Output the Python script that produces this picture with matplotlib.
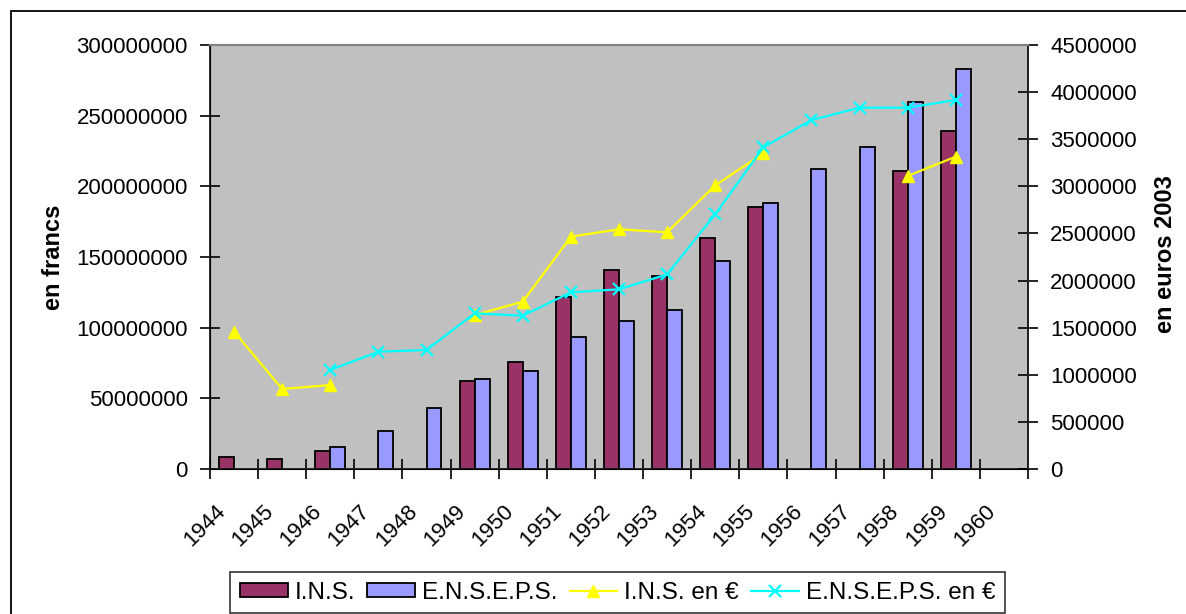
import numpy as np
import matplotlib
matplotlib.use('Agg')
from matplotlib import pyplot as plt
from matplotlib.patches import Rectangle
from matplotlib.lines import Line2D
import matplotlib.transforms as mtransforms

plt.rcParams['font.family'] = ['Liberation Sans', 'DejaVu Sans']

nan = np.nan
years = ['1944', '1945', '1946', '1947', '1948', '1949', '1950', '1951', '1952',
         '1953', '1954', '1955', '1956', '1957', '1958', '1959', '1960']

# francs (left axis)
ins_francs = [8.7e6, 7.3e6, 12.5e6, nan, nan, 62.5e6, 75.5e6, 121.7e6, 140.8e6,
              136.8e6, 163.7e6, 185.4e6, nan, nan, 211.1e6, 239.4e6, nan]
enseps_francs = [nan, nan, 15.3e6, 26.7e6, 43.4e6, 63.9e6, 69.1e6, 93.6e6, 104.9e6,
                 112.7e6, 147.4e6, 188.2e6, 212.5e6, 227.8e6, 259.9e6, 282.8e6, nan]

# euros 2003 (right axis)
ins_euros = [1.457e6, 0.849e6, 0.891e6, nan, nan, 1.634e6, 1.776e6, 2.466e6, 2.544e6,
             2.512e6, 3.011e6, 3.350e6, nan, nan, 3.110e6, 3.315e6, nan]
enseps_euros = [nan, nan, 1.051e6, 1.245e6, 1.263e6, 1.652e6, 1.627e6, 1.875e6, 1.907e6,
                2.066e6, 2.703e6, 3.414e6, 3.704e6, 3.835e6, 3.835e6, 3.916e6, nan]

left_ticks = [0, 50000000, 100000000, 150000000, 200000000, 250000000, 300000000]
right_ticks = [0, 500000, 1000000, 1500000, 2000000, 2500000, 3000000, 3500000, 4000000, 4500000]

fs = 16
W, H = 1186, 614
fig = plt.figure(figsize=(W / 100, H / 100), dpi=100)
ax = fig.add_axes([210 / W, 1 - 469 / H, 818 / W, 424 / H])
ax.set_facecolor('#C0C0C0')

x = np.arange(len(years))
bw = 0.31
ax.bar(x - bw / 2, ins_francs, bw, color='#993366', edgecolor='black', linewidth=1.3, zorder=2)
ax.bar(x + bw / 2, enseps_francs, bw, color='#9999FF', edgecolor='black', linewidth=1.3, zorder=2)
ax.set_xlim(-0.5, len(years) - 0.5)
ax.set_ylim(0, 300000000)

ax.set_yticks(left_ticks)
ax.set_yticklabels([str(t) for t in left_ticks], fontsize=fs)
ax.set_xticks(x)
ax.set_xticklabels(years, fontsize=fs, rotation=45, ha='right', rotation_mode='anchor')
ax.set_xticks(np.arange(len(years) + 1) - 0.5, minor=True)
ax.tick_params(axis='x', which='major', length=0, pad=23)
ax.tick_params(axis='x', which='minor', length=14, direction='inout', width=1.2)
ax.tick_params(axis='y', length=14, direction='inout', width=1.2, pad=9)
off = mtransforms.ScaledTranslation(-14 / 72, 0, fig.dpi_scale_trans)
for lab in ax.get_xticklabels():
    lab.set_transform(lab.get_transform() + off)

ax.spines['top'].set_color('#808080')
ax.spines['top'].set_linewidth(1.5)
for s in ['left', 'bottom', 'right']:
    ax.spines[s].set_color('#202020')
    ax.spines[s].set_linewidth(1.3)

ax2 = ax.twinx()
ax2.plot(x, ins_euros, color='#FFFF00', linewidth=1.6, marker='^', markersize=9, zorder=3)
ax2.plot(x, enseps_euros, color='#00FFFF', linewidth=1.6, marker='x', markersize=9,
         markeredgewidth=1.6, zorder=3)
ax2.set_ylim(0, 4500000)
ax2.set_yticks(right_ticks)
ax2.set_yticklabels([str(t) for t in right_ticks], fontsize=fs)
ax2.tick_params(axis='y', length=14, direction='inout', width=1.2, pad=9)
ax2.spines['top'].set_color('#808080')
ax2.spines['top'].set_linewidth(1.5)
ax2.spines['right'].set_color('#202020')
ax2.spines['right'].set_linewidth(1.3)

fig.text(54 / W, 1 - 257 / H, 'en francs', rotation=90, ha='center', va='center',
         fontsize=17, fontweight='bold')
fig.text(1165 / W, 1 - 254 / H, 'en euros 2003', rotation=90, ha='center', va='center',
         fontsize=17, fontweight='bold')

# chart border
fig.patches.append(Rectangle((11 / W, -0.1), 1.2, 1 - 11 / H + 0.1, transform=fig.transFigure,
                             fill=False, edgecolor='black', linewidth=1.3))

handles = [Rectangle((0, 0), 1, 1, facecolor='#993366', edgecolor='black', linewidth=1.3),
           Rectangle((0, 0), 1, 1, facecolor='#9999FF', edgecolor='black', linewidth=1.3),
           Line2D([], [], color='#FFFF00', linewidth=1.6, marker='^', markersize=9),
           Line2D([], [], color='#00FFFF', linewidth=1.6, marker='x', markersize=9,
                  markeredgewidth=1.6)]
labels = ['I.N.S.', 'E.N.S.E.P.S.', 'I.N.S. en €', 'E.N.S.E.P.S. en €']
leg = fig.legend(handles, labels, loc='upper left', bbox_to_anchor=(230 / W, 1 - 572 / H),
                 ncol=4, fontsize=17.5, frameon=True, fancybox=False, edgecolor='black',
                 handlelength=1.97, handleheight=0.5, handletextpad=0.29, columnspacing=0.49,
                 borderpad=0.4, borderaxespad=0)
leg.get_frame().set_linewidth(1.2)

fig.savefig('out.png', dpi=100, facecolor='white')
